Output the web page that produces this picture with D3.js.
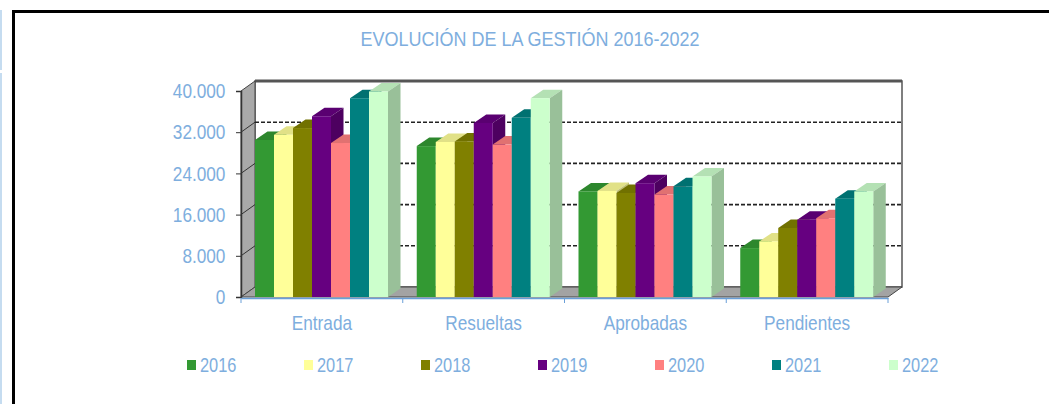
<!DOCTYPE html>
<html>
<head>
<meta charset="utf-8">
<script src="https://cdn.jsdelivr.net/npm/d3@7"></script>
<style>
  body { margin: 0; background: #fff; }
  text { font-family: "Liberation Sans", Arial, sans-serif; fill: #7eaede; }
</style>
</head>
<body>
<script>
// data
var categories = ["Entrada", "Resueltas", "Aprobadas", "Pendientes"];
var years = ["2016", "2017", "2018", "2019", "2020", "2021", "2022"];
var colors = ["#339933", "#ffff99", "#808000", "#660080", "#ff8080", "#008080", "#ccffcc"];
var v2016 = [30500, 29300, 20500, 9500];
var v2017 = [31500, 30100, 20600, 10800];
var v2018 = [32800, 30200, 20200, 13400];
var v2019 = [35100, 33800, 22100, 15000];
var v2020 = [29900, 29600, 19900, 15300];
var v2021 = [38600, 34800, 21500, 19100];
var v2022 = [39900, 38600, 23400, 20500];
var yTicks = [0, 8000, 16000, 24000, 32000, 40000];
var title = "EVOLUCIÓN DE LA GESTIÓN 2016-2022";

var series = [v2016, v2017, v2018, v2019, v2020, v2021, v2022];

window.onload = function(){
    var W = 1049, H = 404;
    var narrow = 'scale(0.82,1)'; // text in the picture is a narrow face
    var svg = d3.select('body').append('svg')
        .attr('width', W)
        .attr('height', H);

    // outer frame
    svg.append('rect').attr('x', 0).attr('y', 10).attr('width', 2).attr('height', 60).style('fill', '#c5dcf0');
    svg.append('rect').attr('x', 0).attr('y', 73).attr('width', 2).attr('height', 331).style('fill', '#c5dcf0');
    svg.append('rect').attr('x', 12).attr('y', 10).attr('width', W - 12).attr('height', 3).style('fill', '#000');
    svg.append('rect').attr('x', 12).attr('y', 10).attr('width', 3).attr('height', H - 10).style('fill', '#000');

    svg.append('g')
        .attr('transform', 'translate(530,46)')
        .append('text')
        .attr('transform', 'scale(0.9,1)')
        .attr('text-anchor', 'middle')
        .style('font-size', '20px')
        .text(title);

    // scales
    var x = d3.scaleBand().domain(categories).range([241, 888]);
    var y = d3.scaleLinear().domain([0, 40000]).range([297, 91]);
    var xi = d3.scaleBand().domain(years).range([14, 147]);
    var dx = 14, dy = 10;     // wall depth
    var bdx = 12.5, bdy = 8.5; // bar depth

    var x0 = x.range()[0], x1 = x.range()[1];
    var yb = y(0), yt = y(40000);

    // back wall
    svg.append('rect')
        .attr('x', x0 + dx).attr('y', yt - dy)
        .attr('width', x1 - x0).attr('height', yb - yt)
        .style('fill', '#fff')
        .style('stroke', '#555')
        .style('stroke-width', 1.5);
    svg.append('line')
        .attr('x1', x0 + dx).attr('x2', x1 + dx)
        .attr('y1', yt - dy).attr('y2', yt - dy)
        .style('stroke', '#555').style('stroke-width', 3);

    // side wall
    svg.append('path')
        .attr('d', 'M' + x0 + ',' + yt + 'L' + (x0 + dx) + ',' + (yt - dy) + 'L' + (x0 + dx) + ',' + (yb - dy) + 'L' + x0 + ',' + yb + 'Z')
        .style('fill', '#a9a9a9')
        .style('stroke', '#444')
        .style('stroke-width', 1);

    // floor
    svg.append('path')
        .attr('d', 'M' + x0 + ',' + yb + 'L' + (x0 + dx) + ',' + (yb - dy) + 'L' + (x1 + dx) + ',' + (yb - dy) + 'L' + x1 + ',' + yb + 'Z')
        .style('fill', '#a3a3a3')
        .style('stroke', '#444')
        .style('stroke-width', 1);

    // gridlines on back wall and side wall
    var grid = yTicks.filter(function(d){ return d > 0 && d < 40000; });
    svg.selectAll('.grid').data(grid).enter().append('line')
        .attr('class', 'grid')
        .attr('x1', x0 + dx).attr('x2', x1 + dx)
        .attr('y1', function(d){ return y(d) - dy; })
        .attr('y2', function(d){ return y(d) - dy; })
        .style('stroke', '#222').style('stroke-width', 1.6)
        .style('stroke-dasharray', '4,2');
    svg.selectAll('.sgrid').data(grid).enter().append('line')
        .attr('class', 'sgrid')
        .attr('x1', x0).attr('x2', x0 + dx)
        .attr('y1', function(d){ return y(d); })
        .attr('y2', function(d){ return y(d) - dy; })
        .style('stroke', '#333').style('stroke-width', 1);

    // bars, drawn left to right so each front covers the previous side
    categories.forEach(function(cat, ci){
        years.forEach(function(yr, si){
            var v = series[si][ci];
            var c = d3.color(colors[si]);
            var bx = x(cat) + xi(yr), bw = xi.bandwidth(), by = y(v);
            var g = svg.append('g');
            // top
            g.append('path')
                .attr('d', 'M' + bx + ',' + by + 'L' + (bx + bdx) + ',' + (by - bdy) + 'L' + (bx + bw + bdx) + ',' + (by - bdy) + 'L' + (bx + bw) + ',' + by + 'Z')
                .style('fill', c.darker(0.35));
            // side
            g.append('path')
                .attr('d', 'M' + (bx + bw) + ',' + by + 'L' + (bx + bw + bdx) + ',' + (by - bdy) + 'L' + (bx + bw + bdx) + ',' + (yb - bdy) + 'L' + (bx + bw) + ',' + yb + 'Z')
                .style('fill', c.darker(0.8));
            // front
            g.append('rect')
                .attr('x', bx).attr('y', by)
                .attr('width', bw).attr('height', yb - by)
                .style('fill', colors[si]);
        });
    });

    // y axis
    var loc = d3.formatLocale({decimal: ",", thousands: ".", grouping: [3], currency: ["", "€"]});
    var yAxis = svg.append('g')
        .attr('transform', 'translate(' + x0 + ',0)')
        .call(d3.axisLeft(y).tickValues(yTicks).tickFormat(loc.format(",d")).tickSize(5).tickPadding(14));
    yAxis.select('.domain').style('stroke', '#333').style('stroke-width', 1.5);
    yAxis.selectAll('.tick line').style('stroke', '#333');
    yAxis.selectAll('text').style('font-size', '21px').style('fill', '#7eaede').attr('transform', narrow);

    // x axis
    var xAxis = svg.append('g')
        .attr('transform', 'translate(0,' + (yb + 1) + ')')
        .call(d3.axisBottom(x).tickSize(0).tickPadding(17));
    xAxis.select('.domain').style('stroke', '#6a9fd8').style('stroke-width', 1.5);
    xAxis.selectAll('text').style('font-size', '21px').style('fill', '#7eaede').attr('transform', narrow);
    var bounds = categories.map(function(c){ return x(c); }).concat([x1]);
    svg.selectAll('.xtick').data(bounds).enter().append('line')
        .attr('class', 'xtick')
        .attr('x1', function(d){ return d; }).attr('x2', function(d){ return d; })
        .attr('y1', yb + 1).attr('y2', yb + 6)
        .style('stroke', '#6a9fd8').style('stroke-width', 1);

    // legend
    var leg = svg.selectAll('.leg').data(years).enter().append('g')
        .attr('class', 'leg')
        .attr('transform', function(d, i){ return 'translate(' + (187 + i * 117) + ',360)'; });
    leg.append('rect')
        .attr('width', 9).attr('height', 10)
        .style('fill', function(d, i){ return colors[i]; });
    leg.append('g')
        .attr('transform', 'translate(13,12)')
        .append('text')
        .attr('transform', narrow)
        .style('font-size', '20px')
        .text(function(d){ return d; });
}
</script>
</body>
</html>
